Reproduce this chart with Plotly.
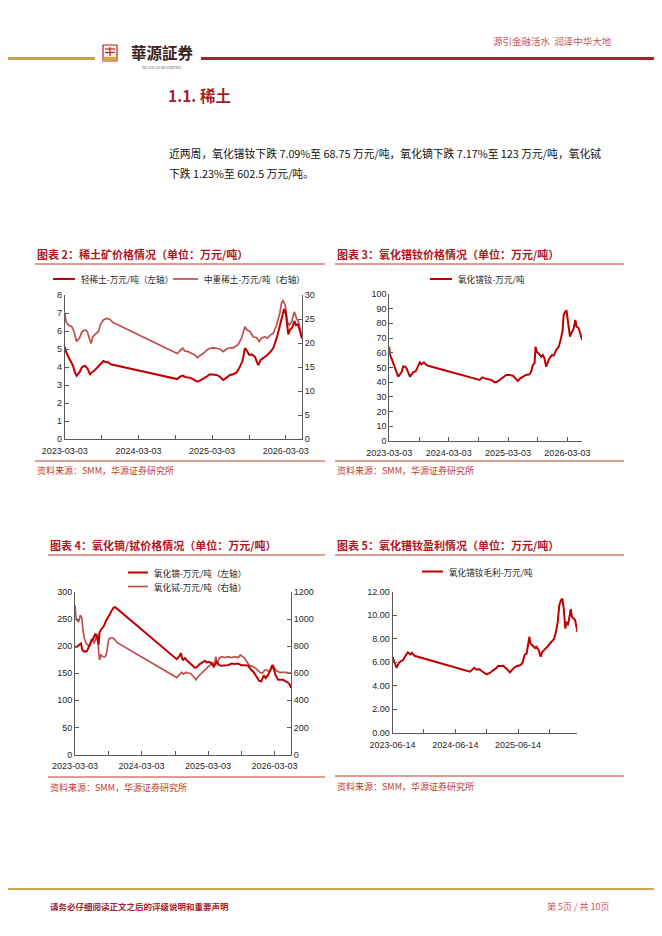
import plotly.graph_objects as go

W, H = 662, 936
OFF = 8  # 页面 body 默认留白

# 图表2：稀土矿价格（万元/吨）
lre_dates = ['2023-03-03', '2023-03-10', '2023-03-21', '2023-04-02', '2023-04-12', '2023-04-23', '2023-05-01',
             '2023-05-15', '2023-05-28', '2023-06-12', '2023-06-23', '2023-07-07', '2023-07-15', '2023-07-31',
             '2023-08-17', '2023-09-02', '2023-09-11', '2023-09-24', '2023-10-05', '2023-10-17',
             '2024-09-11', '2024-09-25', '2024-10-08', '2024-10-24', '2024-11-13', '2024-11-30', '2024-12-20',
             '2025-01-02', '2025-01-18', '2025-02-04', '2025-02-20', '2025-03-09', '2025-03-25', '2025-04-11',
             '2025-04-27', '2025-05-14', '2025-05-31', '2025-06-16', '2025-07-03', '2025-07-19', '2025-08-01',
             '2025-08-13', '2025-08-21', '2025-09-03', '2025-09-15', '2025-10-01', '2025-10-18', '2025-10-30',
             '2025-11-15', '2025-12-02', '2025-12-18', '2025-12-31', '2026-01-17', '2026-02-02', '2026-02-15',
             '2026-02-23', '2026-03-04', '2026-03-16', '2026-03-24', '2026-04-05', '2026-04-15', '2026-04-23',
             '2026-05-01', '2026-05-09', '2026-05-23']
lre_vals = [5.13, 4.85, 4.57, 4.33, 4.10, 3.70, 3.52,
            3.70, 4.00, 4.07, 3.93, 3.60, 3.70, 3.83,
            4.02, 4.20, 4.33, 4.26, 4.26, 4.15,
            3.33, 3.46, 3.52, 3.43, 3.41, 3.31, 3.19,
            3.24, 3.33, 3.46, 3.60, 3.60, 3.56, 3.46,
            3.28, 3.41, 3.56, 3.60, 3.70, 4.02, 4.33,
            5.04, 4.94, 4.67, 4.70, 4.57, 4.10, 4.39,
            4.52, 4.67, 4.85, 5.04, 5.59, 6.33, 6.98,
            7.22, 6.98, 5.81, 6.06, 6.19, 6.56, 6.33,
            6.37, 6.15, 5.59]

mhre_dates = ['2023-03-03', '2023-03-10', '2023-03-21', '2023-04-07', '2023-04-18', '2023-05-01', '2023-05-15',
              '2023-05-28', '2023-06-12', '2023-06-23', '2023-07-03', '2023-07-12', '2023-07-20', '2023-07-31',
              '2023-08-17', '2023-08-28', '2023-09-11', '2023-09-27', '2023-10-14', '2023-10-27',
              '2024-09-11', '2024-09-25', '2024-10-08', '2024-10-20', '2024-11-05', '2024-11-22', '2024-12-08',
              '2024-12-20', '2025-01-02', '2025-01-18', '2025-02-04', '2025-02-20', '2025-03-09', '2025-03-25',
              '2025-04-11', '2025-04-27', '2025-05-14', '2025-05-31', '2025-06-16', '2025-07-11', '2025-07-27',
              '2025-08-13', '2025-08-24', '2025-09-07', '2025-09-23', '2025-10-10', '2025-10-23', '2025-11-03',
              '2025-11-20', '2025-12-02', '2025-12-18', '2025-12-31', '2026-01-17', '2026-02-02', '2026-02-10',
              '2026-02-18', '2026-03-01', '2026-03-11', '2026-03-21', '2026-04-01', '2026-04-15', '2026-04-26',
              '2026-05-06', '2026-05-16', '2026-05-23']
mhre_vals = [26.2, 24.4, 23.75, 23.4, 22.4, 20.3, 21.0,
             22.4, 22.7, 22.4, 21.0, 19.9, 21.3, 21.7,
             22.4, 23.9, 24.8, 25.1, 24.9, 24.3,
             17.8, 18.4, 18.9, 18.3, 18.2, 17.8, 17.5,
             16.9, 17.4, 17.8, 18.5, 18.9, 19.0, 18.9,
             18.75, 18.2, 18.75, 19.0, 19.0, 19.7, 21.0,
             23.4, 22.7, 22.4, 21.3, 21.1, 20.3, 21.0,
             21.3, 21.0, 21.7, 22.0, 23.75, 26.2, 28.3,
             28.8, 27.9, 24.4, 23.75, 24.4, 26.5, 25.1,
             24.4, 22.4, 21.0]

# 图表3：氧化镨钕价格（万元/吨）
prnd_dates = ['2023-03-03', '2023-03-07', '2023-03-17', '2023-03-27', '2023-04-07', '2023-04-17', '2023-04-27',
              '2023-05-07', '2023-05-17', '2023-05-28', '2023-06-07', '2023-06-17', '2023-06-27', '2023-07-08',
              '2023-07-18', '2023-07-28', '2023-08-13', '2023-08-28', '2023-09-07', '2023-09-17', '2023-10-02',
              '2023-10-14', '2023-10-28',
              '2024-09-09', '2024-09-25', '2024-10-10', '2024-10-30', '2024-11-20', '2024-12-10', '2024-12-24',
              '2025-01-10', '2025-01-30', '2025-02-20', '2025-03-12', '2025-04-02', '2025-04-18', '2025-05-02',
              '2025-05-17', '2025-06-02', '2025-06-22', '2025-07-13', '2025-07-23', '2025-08-02', '2025-08-13',
              '2025-08-19', '2025-08-27', '2025-09-12', '2025-09-23', '2025-10-03', '2025-10-13', '2025-10-23',
              '2025-11-02', '2025-11-12', '2025-11-29', '2025-12-09', '2025-12-24', '2026-01-09', '2026-01-23',
              '2026-02-02', '2026-02-08', '2026-02-18', '2026-02-26', '2026-03-07', '2026-03-19', '2026-04-01',
              '2026-04-11', '2026-04-21', '2026-04-29', '2026-05-12', '2026-05-22', '2026-06-01']
prnd_vals = [64.1, 58.4, 56.1, 53.4, 50.5, 46.6, 43.6,
             44.8, 46.6, 50.5, 50.5, 49.3, 46.6, 43.6,
             45.2, 46.6, 47.5, 50.5, 53.4, 52.0, 53.4,
             52.0, 51.1,
             41.4, 43.2, 42.5, 42.0, 41.4, 39.8, 40.2,
             41.4, 43.0, 44.8, 44.8, 44.3, 42.5, 40.7,
             42.5, 43.6, 44.8, 45.2, 47.0, 51.6, 52.7,
             64.1, 60.7, 58.9, 57.3, 58.4, 56.1, 50.5,
             53.9, 56.1, 58.4, 58.0, 61.8, 64.1, 69.8,
             75.5, 85.7, 88.0, 88.4, 81.1, 70.9, 74.3,
             76.6, 82.3, 77.7, 76.6, 73.2, 68.75]

# 图表4：氧化镝 / 氧化铽价格（万元/吨）
dy_dates = ['2023-03-03', '2023-03-14', '2023-03-28', '2023-04-05', '2023-04-12', '2023-04-23', '2023-05-08',
            '2023-05-17', '2023-05-26', '2023-06-04', '2023-06-12', '2023-06-21', '2023-07-01', '2023-07-11',
            '2023-07-16', '2023-07-29', '2023-08-07', '2023-08-22', '2023-09-03', '2023-09-12', '2023-09-21',
            '2023-10-01', '2023-10-10',
            '2024-09-12', '2024-09-26', '2024-10-05', '2024-10-15', '2024-10-27', '2024-11-09', '2024-11-24',
            '2024-12-08', '2024-12-21', '2025-01-03', '2025-01-17', '2025-02-01', '2025-02-14', '2025-02-23',
            '2025-03-10', '2025-03-22', '2025-04-04', '2025-04-19', '2025-05-03', '2025-05-16', '2025-06-03',
            '2025-06-22', '2025-07-10', '2025-07-28', '2025-08-15', '2025-09-03', '2025-09-21', '2025-10-09',
            '2025-10-27', '2025-11-09', '2025-11-24', '2025-12-09', '2025-12-21', '2026-01-03', '2026-01-14',
            '2026-01-27', '2026-02-09', '2026-02-19', '2026-02-27', '2026-03-10', '2026-03-23', '2026-04-04',
            '2026-04-19', '2026-05-04', '2026-05-16', '2026-05-26', '2026-06-02']
dy_vals = [199, 199, 203, 205, 193, 190, 191,
           199, 205, 211, 214, 223, 217, 203,
           226, 233, 236, 248, 254, 260, 266,
           271, 272,
           176, 181, 187, 174, 178, 173, 168,
           165, 160, 162, 167, 170, 173, 170,
           171, 168, 162, 171, 165, 164, 165,
           165, 168, 167, 168, 165, 165, 164,
           156, 152, 144, 136, 135, 146, 141,
           147, 156, 165, 158, 146, 138, 138,
           138, 135, 133, 129, 123]

tb_dates = ['2023-03-03', '2023-03-08', '2023-03-14', '2023-03-23', '2023-04-01', '2023-04-10', '2023-04-16',
            '2023-04-23', '2023-05-04', '2023-05-11', '2023-05-22', '2023-05-30', '2023-06-09', '2023-06-16',
            '2023-06-27', '2023-07-05', '2023-07-11', '2023-07-16', '2023-07-23', '2023-08-03', '2023-08-16',
            '2023-08-25', '2023-09-03', '2023-09-12', '2023-09-21', '2023-10-01', '2023-10-10', '2023-10-19',
            '2024-09-12', '2024-09-26', '2024-10-09', '2024-10-18', '2024-11-02', '2024-11-14', '2024-11-27',
            '2024-12-12', '2024-12-27', '2025-01-08', '2025-01-21', '2025-02-05', '2025-02-19', '2025-03-04',
            '2025-03-17', '2025-03-28', '2025-04-04', '2025-04-15', '2025-04-22', '2025-05-03', '2025-05-16',
            '2025-06-03', '2025-06-22', '2025-07-10', '2025-07-28', '2025-08-15', '2025-08-28', '2025-09-08',
            '2025-09-21', '2025-10-04', '2025-10-18', '2025-11-06', '2025-11-24', '2025-12-12', '2025-12-27',
            '2026-01-08', '2026-01-21', '2026-02-01', '2026-02-14', '2026-02-23', '2026-03-04', '2026-03-14',
            '2026-04-01', '2026-04-19', '2026-05-07', '2026-05-22', '2026-06-02']
tb_vals = [1102, 1016, 992, 980, 1029, 1004, 918,
           857, 820, 808, 796, 845, 857, 820,
           869, 894, 759, 698, 735, 722, 722,
           759, 845, 862, 862, 857, 845, 828,
           568, 588, 607, 593, 607, 600, 600,
           576, 551, 576, 593, 612, 637, 649,
           661, 681, 649, 722, 666, 710, 722,
           715, 722, 715, 722, 715, 735, 722,
           710, 681, 656, 649, 632, 607, 600,
           624, 624, 607, 637, 661, 637, 617,
           607, 607, 607, 600, 602.5]

# 图表5：氧化镨钕毛利（万元/吨）
gm_dates = ['2023-06-14', '2023-06-22', '2023-06-29', '2023-07-07', '2023-07-15', '2023-07-23', '2023-08-03',
            '2023-08-15', '2023-08-25', '2023-09-03', '2023-09-11', '2023-09-19', '2023-09-27', '2023-10-05',
            '2023-10-12', '2023-10-20',
            '2024-09-07', '2024-09-22', '2024-10-02', '2024-10-16', '2024-10-31', '2024-11-14', '2024-11-27',
            '2024-12-13', '2024-12-25', '2025-01-05', '2025-01-21', '2025-02-05', '2025-02-19', '2025-03-04',
            '2025-03-20', '2025-04-04', '2025-04-16', '2025-04-28', '2025-05-08', '2025-05-17', '2025-06-02',
            '2025-06-15', '2025-06-29', '2025-07-11', '2025-07-22', '2025-08-03', '2025-08-11', '2025-08-19',
            '2025-08-26', '2025-09-07', '2025-09-19', '2025-09-30', '2025-10-12', '2025-10-24', '2025-11-02',
            '2025-11-12', '2025-11-24', '2025-12-07', '2025-12-17', '2025-12-29', '2026-01-09', '2026-01-21',
            '2026-01-31', '2026-02-09', '2026-02-19', '2026-02-27', '2026-03-07', '2026-03-16', '2026-03-24',
            '2026-04-01', '2026-04-09', '2026-04-17', '2026-04-24', '2026-05-02', '2026-05-12', '2026-05-22',
            '2026-05-25']
gm_vals = [6.45, 6.08, 5.89, 5.52, 5.75, 5.97, 6.08,
           6.17, 6.45, 6.60, 6.82, 6.74, 6.65, 6.79,
           6.68, 6.54,
           5.18, 5.40, 5.52, 5.35, 5.40, 5.24, 5.12,
           4.95, 5.04, 5.12, 5.32, 5.46, 5.69, 5.66,
           5.69, 5.52, 5.32, 5.12, 5.32, 5.46, 5.63,
           5.69, 5.75, 5.97, 6.60, 6.74, 7.58, 8.15,
           7.58, 7.39, 7.22, 7.30, 7.02, 6.45, 6.88,
           7.02, 7.16, 7.39, 7.58, 7.73, 7.95, 8.57,
           9.42, 10.84, 11.26, 11.40, 10.56, 8.86, 9.42,
           9.14, 9.71, 10.50, 9.85, 9.71, 9.57, 8.86,
           8.57]

ticks_0303 = ['2023-03-03', '2023-09-03', '2024-03-03', '2024-09-03', '2025-03-03', '2025-09-03', '2026-03-03']
labels_0303 = ['2023-03-03', '', '2024-03-03', '', '2025-03-03', '', '2026-03-03']
ticks_0614 = ['2023-06-14', '2023-12-14', '2024-06-14', '2024-12-14', '2025-06-14', '2025-12-14']
labels_0614 = ['2023-06-14', '', '2024-06-14', '', '2025-06-14', '']

DARK = '#C00000'
LIGHT = '#C0504D'
TITLE_RED = '#B0171F'
AX = '#595959'


def fx(p):
    return (p - OFF) / W


def fy(p):
    return 1 - (p - OFF) / H


tick_font = dict(family='Liberation Sans, Arial', size=9, color='#262626')


def x_axis(x0, x1, anchor, rng, vals, text):
    return dict(domain=[fx(x0), fx(x1)], anchor=anchor, type='date', range=rng,
                tickvals=vals, ticktext=text, showline=True, linecolor=AX, linewidth=1,
                ticks='inside', ticklen=4, tickcolor=AX, showgrid=False, zeroline=False,
                tickfont=tick_font, ticklabelstandoff=3, automargin=False)


def y_axis(y0, y1, anchor, rng, dtick, side='left', overlaying=None, fmt=None):
    d = dict(domain=[fy(y1), fy(y0)], anchor=anchor, range=rng, dtick=dtick, side=side,
             showline=True, linecolor=AX, linewidth=1, ticks='inside', ticklen=4, tickcolor=AX,
             showgrid=False, zeroline=False, tickfont=tick_font, automargin=False)
    if overlaying:
        d['overlaying'] = overlaying
    if fmt:
        d['tickformat'] = fmt
    return d


fig = go.Figure()

# 图表2（右轴为底层，左轴叠加在上）
fig.add_trace(go.Scatter(x=mhre_dates, y=mhre_vals, xaxis='x', yaxis='y', mode='lines',
                         line=dict(color=LIGHT, width=1.7)))
fig.add_trace(go.Scatter(x=lre_dates, y=lre_vals, xaxis='x', yaxis='y2', mode='lines',
                         line=dict(color=DARK, width=2)))
# 图表3
fig.add_trace(go.Scatter(x=prnd_dates, y=prnd_vals, xaxis='x2', yaxis='y3', mode='lines',
                         line=dict(color=DARK, width=2)))
# 图表4
fig.add_trace(go.Scatter(x=tb_dates, y=tb_vals, xaxis='x3', yaxis='y4', mode='lines',
                         line=dict(color=LIGHT, width=1.7)))
fig.add_trace(go.Scatter(x=dy_dates, y=dy_vals, xaxis='x3', yaxis='y5', mode='lines',
                         line=dict(color=DARK, width=2)))
# 图表5
fig.add_trace(go.Scatter(x=gm_dates, y=gm_vals, xaxis='x4', yaxis='y6', mode='lines',
                         line=dict(color=DARK, width=2)))

fig.update_layout(
    width=W, height=H, margin=dict(l=0, r=0, t=0, b=0, pad=0, autoexpand=False),
    paper_bgcolor='white', plot_bgcolor='white', showlegend=False,
    xaxis=x_axis(64.7, 302, 'y', ['2023-03-03', '2026-05-23'], ticks_0303, labels_0303),
    yaxis=y_axis(295, 439, 'x', [0, 30], 5, side='right'),
    yaxis2=y_axis(295, 439, 'x', [0, 8], 1, side='left', overlaying='y'),
    xaxis2=x_axis(389.3, 582, 'y3', ['2023-03-03', '2026-06-01'], ticks_0303, labels_0303),
    yaxis3=y_axis(294, 440.7, 'x2', [0, 100], 10),
    xaxis3=x_axis(75, 291, 'y4', ['2023-03-03', '2026-06-02'], ticks_0303, labels_0303),
    yaxis4=y_axis(592, 754.5, 'x3', [0, 1200], 200, side='right'),
    yaxis5=y_axis(592, 754.5, 'x3', [0, 300], 50, side='left', overlaying='y4'),
    xaxis4=x_axis(392.5, 577.3, 'y6', ['2023-06-14', '2026-05-25'], ticks_0614, labels_0614),
    yaxis6=y_axis(591.5, 732.7, 'x4', [0, 12], 2, fmt='.2f'),
)

CJK = 'Noto Sans CJK SC'


def text(x, y, s, size, color, anchor='left', family=CJK):
    fig.add_annotation(x=fx(x), y=fy(y), xref='paper', yref='paper', text=s, showarrow=False,
                       xanchor=anchor, yanchor='middle', font=dict(family=family, size=size, color=color))


def hline(x0, x1, y, color, width):
    fig.add_shape(type='line', xref='paper', yref='paper', x0=fx(x0), x1=fx(x1), y0=fy(y), y1=fy(y),
                  line=dict(color=color, width=width))


# 页眉
hline(0, 95, 58.5, '#C9A04B', 3)
hline(201, 670, 58.5, '#A8232D', 3)
fig.add_shape(type='rect', xref='paper', yref='paper', x0=fx(103), x1=fx(117), y0=fy(61), y1=fy(45),
              line=dict(color='#B3242C', width=1.2), fillcolor='#FBEFE6')
fig.add_shape(type='rect', xref='paper', yref='paper', x0=fx(103), x1=fx(117), y0=fy(61), y1=fy(57),
              line=dict(width=0), fillcolor='#D9A441')
for yy in [49, 52.5]:
    hline(105, 115, yy, '#B3242C', 1.2)
fig.add_shape(type='line', xref='paper', yref='paper', x0=fx(110), x1=fx(110), y0=fy(47), y1=fy(56),
              line=dict(color='#B3242C', width=1.2))
text(129, 52, '<b>華源証券</b>', 15.5, '#3B2320', family='Noto Sans CJK TC')
text(161, 67.5, 'HUAYUAN SECURITIES', 3.6, '#555555', anchor='center', family='Liberation Serif')
text(614, 41, '源引金融活水  润泽中华大地', 9.5, '#C8555A', anchor='right')

# 正文
text(166, 95, '<b>1.1. 稀土</b>', 15.5, '#A31F24')
text(167, 153, '近两周，氧化镨钕下跌 7.09%至 68.75 万元/吨，氧化镝下跌 7.17%至 123 万元/吨，氧化铽',
     10.8, '#111111')
text(167, 173, '下跌 1.23%至 602.5 万元/吨。', 10.8, '#111111')

# 图表标题、分隔线与来源
charts = [
    (35, 325, 254, 264, 461, 470, '图表 2：稀土矿价格情况（单位：万元/吨）'),
    (335, 624, 254, 264, 461, 470, '图表 3：氧化镨钕价格情况（单位：万元/吨）'),
    (48, 325, 545, 555, 777, 787, '图表 4：氧化镝/铽价格情况（单位：万元/吨）'),
    (335, 624, 545, 555, 776, 786, '图表 5：氧化镨钕盈利情况（单位：万元/吨）'),
]
for x0, x1, ty, ly, sy, sty, title in charts:
    text(x0, ty, '<b>' + title + '</b>', 11, TITLE_RED)
    hline(x0, x1, ly, '#C0392B', 1)
    hline(x0, x1, sy, '#C0392B', 1)
    text(x0, sty, '资料来源：SMM，华源证券研究所', 9, '#C0392B')

# 图例
legend_items = [
    (53, 75, 279, DARK, 2, '轻稀土-万元/吨（左轴）'),
    (173, 198, 279, LIGHT, 1.7, '中重稀土-万元/吨（右轴）'),
    (430, 452, 279, DARK, 2, '氧化镨钕-万元/吨'),
    (128, 148, 572.5, DARK, 2, '氧化镝-万元/吨（左轴）'),
    (128, 148, 586.5, LIGHT, 1.7, '氧化铽-万元/吨（右轴）'),
    (422, 443, 571.5, DARK, 2, '氧化镨钕毛利-万元/吨'),
]
for x0, x1, y, c, wd, s in legend_items:
    hline(x0, x1, y, c, wd)
    text(x1 + 4, y, s, 8.6, '#262626')

# 页脚
hline(0, 670, 889, '#D3A54A', 2)
text(48, 906, '<b>请务必仔细阅读正文之后的评级说明和重要声明</b>', 8.5, '#A8232D')
text(612, 906, '第 5页 / 共 10页', 9, '#C8555A', anchor='right')

fig.write_html("out.html")
